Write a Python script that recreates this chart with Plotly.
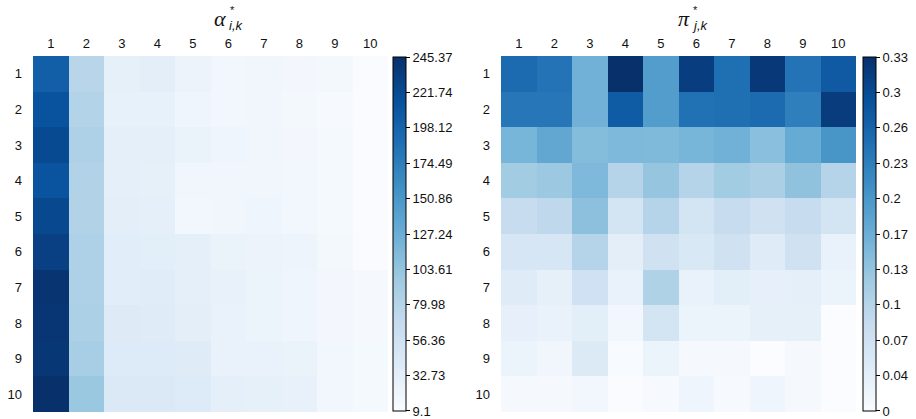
import plotly.graph_objects as go

W, H = 916, 419

labels = [str(i) for i in range(1, 11)]

# alpha*_{i,k}: rows i = 1..10, columns k = 1..10
alpha_vals = [
    [203, 78, 30, 33, 24, 18, 19, 17, 16, 10],
    [215, 82, 29, 29, 22, 18, 19, 16, 13, 10],
    [222, 85, 32, 31, 26, 22, 20, 17, 15, 10],
    [214, 83, 32, 30, 19, 20, 20, 18, 15, 10],
    [224, 84, 33, 31, 18, 19, 22, 18, 15, 10],
    [231, 86, 35, 34, 32, 26, 24, 23, 16, 10],
    [241, 86, 35, 37, 32, 28, 25, 22, 17, 14],
    [240, 87, 39, 38, 33, 27, 25, 22, 17, 14],
    [239, 90, 40, 40, 38, 27, 27, 26, 18, 15],
    [245.37, 100, 42, 42, 40, 31, 30, 28, 18, 15],
]
alpha_range = [9.1, 245.37]
alpha_ticktext = ["9.1", "32.73", "56.36", "79.98", "103.61", "127.24",
                  "150.86", "174.49", "198.12", "221.74", "245.37"]

# pi*_{j,k}: rows j = 1..10, columns k = 1..10
pi_vals = [
    [0.255, 0.245, 0.160, 0.330, 0.190, 0.313, 0.250, 0.320, 0.245, 0.277],
    [0.240, 0.240, 0.160, 0.275, 0.190, 0.248, 0.250, 0.255, 0.230, 0.315],
    [0.155, 0.175, 0.145, 0.150, 0.148, 0.155, 0.160, 0.140, 0.170, 0.200],
    [0.120, 0.125, 0.150, 0.100, 0.130, 0.100, 0.120, 0.110, 0.135, 0.100],
    [0.080, 0.090, 0.138, 0.060, 0.100, 0.060, 0.080, 0.065, 0.080, 0.060],
    [0.055, 0.055, 0.100, 0.033, 0.065, 0.050, 0.065, 0.040, 0.065, 0.025],
    [0.040, 0.030, 0.067, 0.025, 0.105, 0.025, 0.035, 0.028, 0.032, 0.020],
    [0.028, 0.025, 0.035, 0.012, 0.060, 0.020, 0.020, 0.030, 0.030, 0.000],
    [0.020, 0.015, 0.045, 0.005, 0.020, 0.007, 0.007, 0.000, 0.008, 0.000],
    [0.008, 0.008, 0.012, 0.002, 0.006, 0.018, 0.006, 0.018, 0.008, 0.000],
]
pi_range = [0.0, 0.33]
pi_ticktext = ["0", "0.04", "0.07", "0.1", "0.13", "0.17", "0.2", "0.23", "0.26", "0.3", "0.33"]

blues = [
    [0.0, "rgb(250,252,255)"], [0.125, "rgb(222,235,247)"], [0.25, "rgb(198,219,239)"],
    [0.375, "rgb(158,202,225)"], [0.5, "rgb(107,174,214)"], [0.625, "rgb(66,146,198)"],
    [0.75, "rgb(33,113,181)"], [0.875, "rgb(8,81,156)"], [1.0, "rgb(8,48,107)"],
]


def fx(px):
    return px / W


def fy(py):
    return 1 - py / H


TICK_FONT = dict(family="Liberation Sans, Arial, sans-serif", size=13, color="#111")


def colorbar(x_px, zrange, ticktext):
    lo, hi = zrange
    n = len(ticktext) - 1
    # ticks evenly spaced over the colour range; nudge the ends inward so both show
    eps = (hi - lo) * 1e-4
    tickvals = [lo + (hi - lo) * k / n for k in range(n + 1)]
    tickvals[0] += eps
    tickvals[-1] -= eps
    return dict(
        x=fx(x_px), xanchor="left", xpad=0,
        y=fy((57 + 411) / 2), yanchor="middle", ypad=0,
        len=(411 - 57) / H, lenmode="fraction",
        thickness=13, thicknessmode="pixels",
        outlinewidth=1, outlinecolor="black",
        tickmode="array", tickvals=tickvals, ticktext=ticktext,
        ticks="outside", ticklen=4, tickcolor="black", tickwidth=1,
        tickfont=TICK_FONT, ticklabeloverflow="allow",
    )


fig = go.Figure()
fig.add_trace(go.Heatmap(
    z=alpha_vals, x=labels, y=labels, colorscale=blues,
    zmin=alpha_range[0], zmax=alpha_range[1],
    colorbar=colorbar(393, alpha_range, alpha_ticktext), xaxis="x", yaxis="y",
))
fig.add_trace(go.Heatmap(
    z=pi_vals, x=labels, y=labels, colorscale=blues,
    zmin=pi_range[0], zmax=pi_range[1],
    colorbar=colorbar(863, pi_range, pi_ticktext), xaxis="x2", yaxis="y2",
))

ax_common = dict(showgrid=False, zeroline=False, showline=False, ticks="",
                 tickfont=TICK_FONT, type="category")
fig.update_layout(
    width=W, height=H,
    margin=dict(l=0, r=0, t=0, b=0),
    paper_bgcolor="white", plot_bgcolor="white",
    xaxis=dict(domain=[fx(33), fx(388)], side="top", anchor="y", ticklabelstandoff=4, **ax_common),
    yaxis=dict(domain=[fy(412), fy(56)], autorange="reversed", anchor="x", ticklabelstandoff=10, **ax_common),
    xaxis2=dict(domain=[fx(501), fx(856)], side="top", anchor="y2", ticklabelstandoff=4, **ax_common),
    yaxis2=dict(domain=[fy(412), fy(56)], autorange="reversed", anchor="x2", ticklabelstandoff=10, **ax_common),
)


# Titles: symbol, subscript and asterisk placed separately so the star sits above the subscript
def title(sym, sub, x_sym, x_sub):
    fig.add_annotation(text=f"<i>{sym}</i>", x=fx(x_sym), y=fy(18), xref="paper", yref="paper",
                       xanchor="center", yanchor="middle", showarrow=False,
                       font=dict(family="Liberation Serif, Times New Roman, serif", size=22, color="#111"))
    fig.add_annotation(text=f"<i>{sub}</i>", x=fx(x_sub), y=fy(25), xref="paper", yref="paper",
                       xanchor="left", yanchor="middle", showarrow=False,
                       font=dict(family="Liberation Sans, Arial, sans-serif", size=13, color="#111"))
    fig.add_annotation(text="*", x=fx(x_sub + 1), y=fy(10), xref="paper", yref="paper",
                       xanchor="left", yanchor="middle", showarrow=False,
                       font=dict(family="Liberation Sans, Arial, sans-serif", size=11, color="#111"))


title("α", "i,k", 220, 227)
title("π", "j,k", 684, 690)

fig.write_html("out.html")
